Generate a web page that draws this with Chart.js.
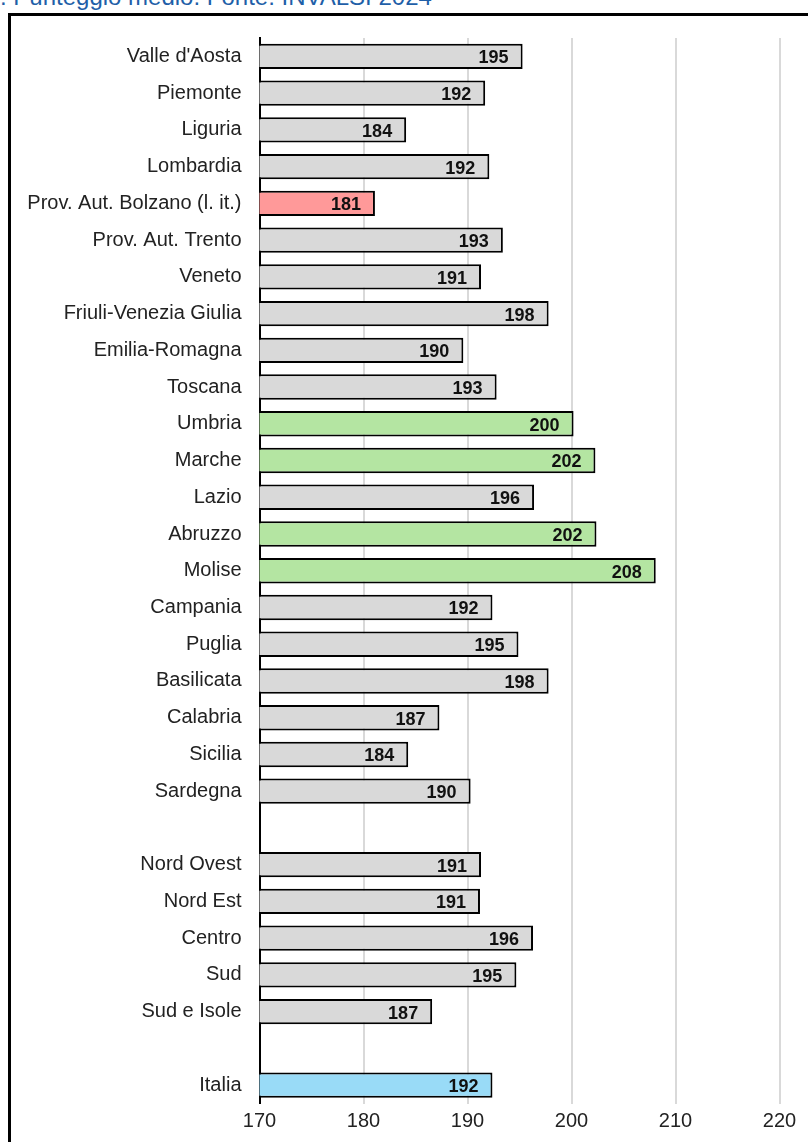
<!DOCTYPE html>
<html>
<head>
<meta charset="utf-8">
<script src="https://cdn.jsdelivr.net/npm/chart.js@4"></script>
<style>
    html, body { margin: 0; padding: 0; background: #fff; overflow: hidden; }
    body { width: 808px; height: 1142px; position: relative; font-family: "Liberation Sans", Arial, sans-serif; }
    #title { position: absolute; left: 0; top: -16px; font-size: 24px; line-height: 26px; color: #1f5fa8; white-space: nowrap; }
    #frame { position: absolute; left: 8px; top: 13px; width: 900px; height: 1200px; border: 3px solid #000; box-sizing: border-box; }
    #chart { position: absolute; left: 0; top: 0; }
</style>
</head>
<body>
<div id="title">. Punteggio medio. Fonte: INVALSI 2024</div>
<div id="frame"></div>
<canvas id="chart" width="808" height="1142"></canvas>
<script>
// ── Data ───────────────────────────────────
const categories = [
    "Valle d'Aosta", 'Piemonte', 'Liguria', 'Lombardia', 'Prov. Aut. Bolzano (l. it.)',
    'Prov. Aut. Trento', 'Veneto', 'Friuli-Venezia Giulia', 'Emilia-Romagna', 'Toscana',
    'Umbria', 'Marche', 'Lazio', 'Abruzzo', 'Molise', 'Campania', 'Puglia', 'Basilicata',
    'Calabria', 'Sicilia', 'Sardegna', '',
    'Nord Ovest', 'Nord Est', 'Centro', 'Sud', 'Sud e Isole', '',
    'Italia'
];

const scores = [
    195.3, 191.7, 184.1, 192.1, 181.1,
    193.4, 191.3, 197.8, 189.6, 192.8,
    200.2, 202.3, 196.4, 202.4, 208.1, 192.4, 194.9, 197.8,
    187.3, 184.3, 190.3, null,
    191.3, 191.2, 196.3, 194.7, 186.6, null,
    192.4
];

// g = grey, r = below, v = above, i = Italia
const groups = [
    'g', 'g', 'g', 'g', 'r',
    'g', 'g', 'g', 'g', 'g',
    'v', 'v', 'g', 'v', 'v', 'g', 'g', 'g',
    'g', 'g', 'g', '',
    'g', 'g', 'g', 'g', 'g', '',
    'i'
];

const xTicks = [170, 180, 190, 200, 210, 220];

const palette = { g: '#d9d9d9', r: '#ff9999', v: '#b4e5a2', i: '#99dbf7' };

const FONT = '"Liberation Sans", Arial, sans-serif';

// ── Value labels (inside end) ──────────────
const valueLabels = {
    id: 'valueLabels',
    afterDatasetsDraw(chart) {
        const ctx = chart.ctx;
        const meta = chart.getDatasetMeta(0);
        ctx.save();
        ctx.font = 'bold 18px ' + FONT;
        ctx.fillStyle = '#111';
        ctx.textAlign = 'right';
        ctx.textBaseline = 'middle';
        meta.data.forEach((bar, i) => {
            const v = scores[i];
            if (v == null) return;
            ctx.fillText(String(Math.round(v)), bar.x - 14, bar.y + 2);
        });
        ctx.restore();
    }
};

new Chart(document.getElementById('chart'), {
    type: 'bar',
    data: {
        labels: categories,
        datasets: [{
            data: scores,
            backgroundColor: groups.map(g => palette[g] || '#fff'),
            borderColor: '#000',
            borderWidth: 2,
            borderSkipped: false,
            categoryPercentage: 1,
            barPercentage: 0.69
        }]
    },
    options: {
        indexAxis: 'y',
        responsive: false,
        animation: false,
        layout: { padding: { top: 38, right: 28.5, left: 0, bottom: 0 } },
        scales: {
            x: {
                min: 170, max: 220,
                afterBuildTicks: axis => { axis.ticks = xTicks.map(v => ({ value: v })); },
                afterFit: axis => { axis.height = 38.5; },
                grid: { color: '#d9d9d9', lineWidth: 2, drawTicks: false },
                border: { display: false },
                ticks: {
                    color: '#222',
                    padding: 6,
                    font: { family: FONT, size: 20 }
                }
            },
            y: {
                afterFit: axis => { axis.width = 259.5; },
                grid: { display: false, drawTicks: false },
                border: { display: true, color: '#000', width: 2 },
                ticks: {
                    color: '#222',
                    padding: 18,
                    autoSkip: false,
                    font: { family: FONT, size: 20 }
                }
            }
        },
        plugins: {
            legend: { display: false },
            tooltip: { enabled: false }
        }
    },
    plugins: [valueLabels]
});
</script>
</body>
</html>
